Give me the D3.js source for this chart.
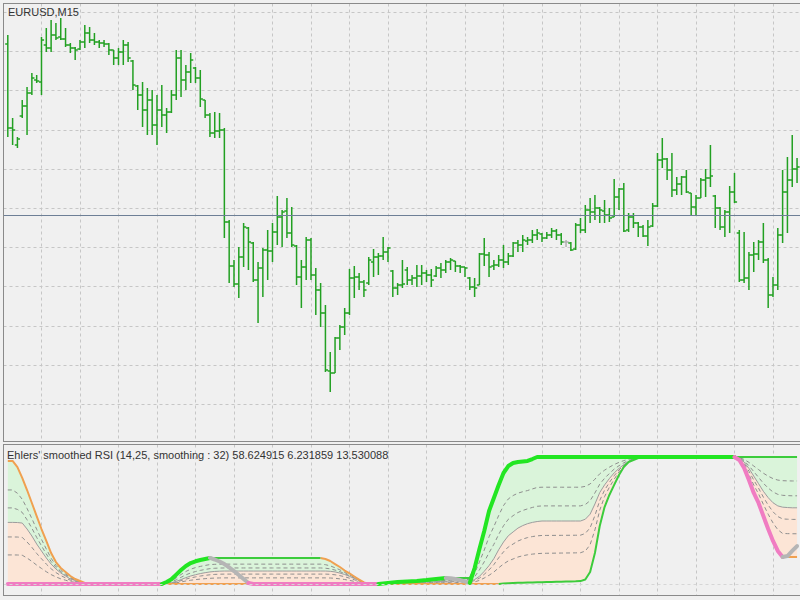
<!DOCTYPE html>
<html>
<head>
<meta charset="utf-8">
<script src="https://cdnjs.cloudflare.com/ajax/libs/d3/7.8.5/d3.min.js"></script>
<style>
  html, body { margin: 0; padding: 0; background: #f0f0f0; }
  svg { display: block; }
</style>
</head>
<body>
<div id="chart"></div>
<script>
// EURUSD M15 bars (left tick = open, right tick = close)
const opens = [
  1.35956,1.35872,1.35855,1.35884,1.35894,1.35907,1.35920,1.35918,1.35955,1.35952,
  1.35965,1.35963,1.35961,1.35955,1.35952,1.35951,1.35958,1.35967,1.35960,1.35958,
  1.35957,1.35956,1.35950,1.35942,1.35948,1.35955,1.35939,1.35914,1.35905,1.35890,
  1.35900,1.35875,1.35890,1.35885,1.35888,1.35905,1.35942,1.35920,1.35928,1.35932,
  1.35922,1.35900,1.35885,1.35867,1.35869,1.35870,1.35778,1.35734,1.35716,1.35743,
  1.35772,1.35757,1.35720,1.35732,1.35750,1.35749,1.35768,1.35783,1.35789,1.35767,
  1.35754,1.35723,1.35733,1.35760,1.35725,1.35710,1.35687,1.35629,1.35627,1.35662,
  1.35673,1.35687,1.35722,1.35723,1.35718,1.35717,1.35738,1.35743,1.35744,1.35748,
  1.35729,1.35712,1.35715,1.35730,1.35720,1.35722,1.35724,1.35727,1.35725,1.35724,
  1.35732,1.35730,1.35738,1.35739,1.35734,1.35733,1.35722,1.35713,1.35715,1.35746,
  1.35745,1.35734,1.35735,1.35740,1.35738,1.35744,1.35757,1.35755,1.35759,1.35760,
  1.35765,1.35766,1.35762,1.35765,1.35769,1.35765,1.35758,1.35757,1.35751,1.35775,
  1.35770,1.35790,1.35788,1.35792,1.35789,1.35785,1.35783,1.35803,1.35811,1.35770,
  1.35783,1.35777,1.35773,1.35764,1.35774,1.35794,1.35840,1.35841,1.35830,1.35810,
  1.35816,1.35823,1.35807,1.35793,1.35802,1.35820,1.35822,1.35804,1.35792,1.35773,
  1.35788,1.35808,1.35767,1.35720,1.35722,1.35745,1.35746,1.35758,1.35740,1.35705,
  1.35715,1.35765,1.35808,1.35820,1.35831
];
const highs = [
  1.35965,1.35882,1.35863,1.35900,1.35913,1.35927,1.35925,1.35963,1.35972,1.35980,
  1.35977,1.35982,1.35972,1.35957,1.35953,1.35960,1.35975,1.35973,1.35967,1.35960,
  1.35960,1.35957,1.35950,1.35952,1.35960,1.35958,1.35940,1.35915,1.35918,1.35912,
  1.35910,1.35905,1.35915,1.35892,1.35910,1.35950,1.35950,1.35935,1.35947,1.35933,
  1.35930,1.35900,1.35887,1.35888,1.35887,1.35872,1.35780,1.35740,1.35753,1.35777,
  1.35773,1.35758,1.35738,1.35752,1.35770,1.35777,1.35804,1.35790,1.35802,1.35793,
  1.35755,1.35740,1.35763,1.35762,1.35732,1.35717,1.35695,1.35648,1.35663,1.35675,
  1.35692,1.35731,1.35734,1.35727,1.35720,1.35743,1.35751,1.35747,1.35763,1.35753,
  1.35730,1.35717,1.35740,1.35733,1.35725,1.35735,1.35735,1.35730,1.35731,1.35734,
  1.35737,1.35740,1.35742,1.35739,1.35735,1.35733,1.35723,1.35722,1.35747,1.35762,
  1.35748,1.35740,1.35745,1.35755,1.35747,1.35758,1.35760,1.35765,1.35763,1.35770,
  1.35771,1.35767,1.35768,1.35772,1.35771,1.35767,1.35760,1.35758,1.35777,1.35782,
  1.35795,1.35802,1.35805,1.35793,1.35800,1.35792,1.35821,1.35812,1.35817,1.35787,
  1.35787,1.35778,1.35775,1.35780,1.35797,1.35847,1.35862,1.35842,1.35847,1.35823,
  1.35824,1.35830,1.35807,1.35805,1.35822,1.35831,1.35855,1.35805,1.35793,1.35790,
  1.35814,1.35827,1.35770,1.35768,1.35748,1.35758,1.35760,1.35777,1.35742,1.35723,
  1.35772,1.35830,1.35843,1.35865,1.35842
];
const lows = [
  1.35863,1.35855,1.35852,1.35882,1.35865,1.35905,1.35917,1.35905,1.35948,1.35948,
  1.35960,1.35960,1.35953,1.35947,1.35940,1.35950,1.35952,1.35957,1.35955,1.35952,
  1.35953,1.35945,1.35935,1.35935,1.35935,1.35938,1.35910,1.35890,1.35873,1.35865,
  1.35865,1.35855,1.35873,1.35867,1.35887,1.35900,1.35903,1.35910,1.35917,1.35917,
  1.35893,1.35882,1.35863,1.35862,1.35862,1.35762,1.35717,1.35713,1.35702,1.35733,
  1.35730,1.35718,1.35677,1.35703,1.35720,1.35738,1.35755,1.35753,1.35762,1.35753,
  1.35715,1.35692,1.35720,1.35720,1.35685,1.35673,1.35628,1.35608,1.35627,1.35650,
  1.35665,1.35685,1.35702,1.35710,1.35703,1.35715,1.35723,1.35725,1.35740,1.35738,
  1.35703,1.35705,1.35712,1.35715,1.35715,1.35713,1.35715,1.35718,1.35713,1.35723,
  1.35722,1.35727,1.35730,1.35728,1.35727,1.35723,1.35710,1.35703,1.35715,1.35734,
  1.35723,1.35730,1.35733,1.35732,1.35735,1.35743,1.35748,1.35748,1.35755,1.35757,
  1.35760,1.35758,1.35761,1.35762,1.35760,1.35755,1.35753,1.35749,1.35750,1.35767,
  1.35767,1.35777,1.35780,1.35777,1.35777,1.35778,1.35783,1.35790,1.35768,1.35768,
  1.35772,1.35763,1.35763,1.35754,1.35773,1.35793,1.35832,1.35820,1.35803,1.35805,
  1.35805,1.35807,1.35785,1.35785,1.35802,1.35803,1.35813,1.35772,1.35770,1.35763,
  1.35767,1.35797,1.35718,1.35717,1.35710,1.35728,1.35740,1.35737,1.35692,1.35703,
  1.35710,1.35757,1.35767,1.35813,1.35817
];
const closes = [
  1.35872,1.35870,1.35861,1.35894,1.35907,1.35922,1.35919,1.35960,1.35952,1.35965,
  1.35962,1.35961,1.35955,1.35952,1.35950,1.35958,1.35967,1.35960,1.35958,1.35957,
  1.35956,1.35950,1.35942,1.35948,1.35955,1.35942,1.35915,1.35905,1.35890,1.35900,
  1.35875,1.35890,1.35885,1.35888,1.35905,1.35942,1.35920,1.35928,1.35940,1.35922,
  1.35901,1.35885,1.35867,1.35869,1.35870,1.35778,1.35734,1.35716,1.35743,1.35773,
  1.35758,1.35720,1.35732,1.35750,1.35749,1.35768,1.35783,1.35788,1.35767,1.35755,
  1.35723,1.35733,1.35760,1.35725,1.35710,1.35687,1.35630,1.35627,1.35662,1.35673,
  1.35687,1.35722,1.35723,1.35718,1.35710,1.35740,1.35743,1.35744,1.35748,1.35752,
  1.35712,1.35715,1.35716,1.35720,1.35722,1.35724,1.35727,1.35725,1.35720,1.35732,
  1.35730,1.35738,1.35740,1.35734,1.35733,1.35732,1.35713,1.35712,1.35746,1.35745,
  1.35733,1.35735,1.35740,1.35738,1.35744,1.35757,1.35755,1.35760,1.35760,1.35765,
  1.35767,1.35762,1.35765,1.35769,1.35765,1.35758,1.35758,1.35750,1.35775,1.35770,
  1.35790,1.35788,1.35792,1.35790,1.35785,1.35782,1.35803,1.35811,1.35769,1.35783,
  1.35777,1.35773,1.35764,1.35773,1.35794,1.35840,1.35841,1.35830,1.35810,1.35816,
  1.35823,1.35808,1.35793,1.35802,1.35820,1.35822,1.35824,1.35792,1.35773,1.35788,
  1.35808,1.35798,1.35720,1.35722,1.35745,1.35746,1.35758,1.35740,1.35705,1.35715,
  1.35765,1.35808,1.35820,1.35831,1.35833
];
const levelPrice = 1.35785;

// Ehlers' smoothed RSI: main line, upper/lower band, smoothed middle
const rsi = [
  0,0,0,0,0,0,0,0,0,0, 0,0,0,0,0,0,0,0,0,0, 0,0,0,0,0,0,0,0,0,0,
  0,0,0,1.6,3.7,7.4,11.0,14.2,16.5,17.9, 18.9,19.7,20.5,19.3,17.7,15.7,13.0,10.2,7.1,3.9,
  0.8,0,0,0,0,0,0,0,0,0, 0,0,0,0,0,0,0,0,0,0, 0,0,0,0,0,0,0,0,0.4,0.8,
  1.2,1.6,1.8,2.0,2.2,2.4,2.8,3.1,3.5,3.9, 4.3,4.7,4.5,3.9,3.1,2.0,0.8,12.6,27.6,41.7,
  57.5,67.7,78.0,87.4,92.9,95.3,96.1,96.5,96.9,98.4,
  100,100,100,100,100,100,100,100,100,100, 100,100,100,100,100,100,100,100,100,100,
  100,100,100,100,100,100,100,100,100,100, 100,100,100,100,100,100,100,100,100,100,
  100,100,97.6,91.3,81.9,71.7,63.8,53.5,43.3,33.9, 26.0,21.3,22.0,26.0,29.9
];
const hiBand = [
  96.9,96.9,92.1,83.5,74.0,63.8,53.5,43.3,33.9,24.4, 17.3,12.6,9.4,6.3,3.9,2.4,0.8,0,0,0,
  0,0,0,0,0,0,0,0,0,0, 0,0,0,1.6,3.7,7.4,11.0,14.2,16.5,17.9, 18.9,19.7,20.5,20.5,20.5,20.5,20.5,20.5,20.5,20.5,
  20.5,20.5,20.5,20.5,20.5,20.5,20.5,20.5,20.5,20.5, 20.5,20.5,20.5,20.5,20.5,20.5,19.7,18.1,15.7,13.4,
  10.6,8.3,5.9,3.5,1.2,0,0,0,0.4,0.8, 1.2,1.6,1.8,2.0,2.2,2.4,2.8,3.1,3.5,3.9,
  4.3,4.7,4.7,4.7,4.7,4.7,4.7,12.6,27.6,41.7, 57.5,67.7,78.0,87.4,92.9,95.3,96.1,96.5,96.9,98.4,
  100,100,100,100,100,100,100,100,100,100, 100,100,100,100,100,100,100,100,100,100,
  100,100,100,100,100,100,100,100,100,100, 100,100,100,100,100,100,100,100,100,100,
  100,100,100,100,100,100,100,100,100,100, 100,100,100,100,100,100,100,100,100,100,
  100,100,100,100,100
];
const loBand = [
  0,0,0,0,0,0,0,0,0,0, 0,0,0,0,0,0,0,0,0,0, 0,0,0,0,0,0,0,0,0,0,
  0,0,0,0,0,0,0,0,0,0, 0,0,0,0,0,0,0,0,0,0, 0,0,0,0,0,0,0,0,0,0,
  0,0,0,0,0,0,0,0,0,0, 0,0,0,0,0,0,0,0,0,0, 0,0,0,0,0,0,0,0,0,0,
  0,0,0,0,0,0,0,0,0,0, 0,0,0,0.3,0.5,0.7,0.9,1.0,1.1,1.2,
  1.3,1.4,1.5,1.6,1.7,1.8,1.9,2.0,2.1,2.3, 3.5,9.5,24.4,45.7,60.6,70.1,78.0,85.8,92.1,96.1,
  97.6,99.2,100,100,100,100,100,100,100,100, 100,100,100,100,100,100,100,100,100,100,
  100,100,97.6,91.3,81.9,71.7,63.8,53.5,43.3,33.9, 26.0,21.3,21.3,21.3,21.3
];
const midLine = [
  48.5,48.5,48.4,48.0,43.3,37.8,31.5,26.0,20.5,15.7, 11.8,8.7,6.3,3.9,2.8,1.6,0.8,0,0,0,
  0,0,0,0,0,0,0,0,0,0, 0,0,0,0.3,1.0,2.0,3.5,5.0,6.3,7.3, 8.2,8.9,9.5,9.9,10.1,10.2,10.2,10.2,10.2,10.2,
  10.2,10.2,10.2,10.2,10.2,10.2,10.2,10.2,10.2,10.2, 10.2,10.2,10.2,10.2,10.2,10.2,10.2,10.0,9.5,8.6,
  7.5,6.0,4.4,2.8,1.2,0,0,0,0.1,0.2, 0.35,0.5,0.65,0.8,0.95,1.1,1.25,1.4,1.6,1.8,
  2.0,2.2,2.3,2.35,2.35,2.35,2.35,3.5,6.0,10.0, 14.5,20.0,27.0,33.0,38.0,41.0,44.0,46.0,47.5,48.5,
  49.2,49.6,49.6,49.6,49.6,49.6,49.6,49.6,49.6,49.6, 51.0,55.0,63.0,72.0,78.0,83.0,87.5,91.0,94.0,96.5,
  98.0,99.4,100,100,100,100,100,100,100,100, 100,100,100,100,100,100,100,100,100,100,
  100,100,99.0,96.0,91.0,85.0,79.0,73.0,68.0,64.0, 61.5,60.5,60.2,60.0,60.0
];
const fibSteps = [0.528, 0.236, -0.236, -0.528];

const W = 800, H = 600;
const mainWin = { left: 3.5, right: 806, top: 3.5, bottom: 441.5 };
const subWin = { left: 3.5, right: 806, top: 444.5, bottom: 595.5 };

const svg = d3.select("#chart").append("svg")
  .attr("width", W).attr("height", H)
  .style("font-family", "'Liberation Sans', Arial, sans-serif");

svg.append("rect").attr("width", W).attr("height", H).attr("fill", "#f0f0f0");

const defs = svg.append("defs");
[["clipMain", mainWin], ["clipSub", subWin]].forEach(([id, w]) => {
  defs.append("clipPath").attr("id", id).append("rect")
    .attr("x", w.left).attr("y", w.top)
    .attr("width", w.right - w.left).attr("height", w.bottom - w.top);
});

// scales
const n = opens.length;
const x = d3.scaleLinear().domain([0, n - 1]).range([7.8, 7.8 + 4.8125 * (n - 1)]);
const y = d3.scaleLinear().domain([1.35559, 1.35997]).range([441, 3]);
const yInd = d3.scaleLinear().domain([0, 100]).range([584, 457]);

// grid: a vertical line every 8 bars (2 hours), horizontal every 39.2px
const gridBars = d3.range(7, n, 8);
const gridColor = "#c6c6c6";
[mainWin, subWin].forEach(w => {
  svg.append("g").selectAll("line").data(gridBars).join("line")
    .attr("x1", d => Math.round(x(d)) + 0.5).attr("x2", d => Math.round(x(d)) + 0.5)
    .attr("y1", w.top).attr("y2", w.bottom)
    .attr("stroke", gridColor).attr("stroke-dasharray", "3,3");
});
svg.append("g").selectAll("line").data(d3.range(11)).join("line")
  .attr("x1", mainWin.left).attr("x2", W)
  .attr("y1", k => Math.round(12 + 39.2 * k) + 0.5).attr("y2", k => Math.round(12 + 39.2 * k) + 0.5)
  .attr("stroke", gridColor).attr("stroke-dasharray", "3,3");

// ---------- main window: OHLC bars ----------
const barData = opens.map((o, i) => ({ i, o, h: highs[i], l: lows[i], c: closes[i] }));
const bars = svg.append("g").attr("clip-path", "url(#clipMain)")
  .selectAll("g").data(barData).join("g")
  .attr("stroke", d => d.o === d.c ? "#b0b0b0" : "#22a022")
  .attr("stroke-width", 1.5);

bars.append("line")
  .attr("x1", d => x(d.i)).attr("x2", d => x(d.i))
  .attr("y1", d => y(d.h)).attr("y2", d => y(d.l));
bars.append("line")
  .attr("x1", d => x(d.i) - 2.6).attr("x2", d => x(d.i))
  .attr("y1", d => y(d.o)).attr("y2", d => y(d.o));
bars.append("line")
  .attr("x1", d => x(d.i)).attr("x2", d => x(d.i) + 2.6)
  .attr("y1", d => y(d.c)).attr("y2", d => y(d.c));

svg.append("line")
  .attr("x1", mainWin.left).attr("x2", W)
  .attr("y1", Math.round(y(levelPrice)) + 0.5).attr("y2", Math.round(y(levelPrice)) + 0.5)
  .attr("stroke", "#6d7f96").attr("stroke-width", 1);

svg.append("text")
  .attr("x", 8).attr("y", 16)
  .attr("font-size", "11px").attr("fill", "#333")
  .text("EURUSD,M15");

// ---------- sub window: smoothed RSI ----------
const ind = svg.append("g").attr("clip-path", "url(#clipSub)");
const idx = d3.range(n);

ind.append("path").datum(idx)
  .attr("fill", "#daf4da")
  .attr("d", d3.area().x(i => x(i)).y0(i => yInd(midLine[i])).y1(i => yInd(hiBand[i])));
ind.append("path").datum(idx)
  .attr("fill", "#fce5d6")
  .attr("d", d3.area().x(i => x(i)).y0(i => yInd(loBand[i])).y1(i => yInd(midLine[i])));

const fibValue = (k, i) => k > 0
  ? midLine[i] + k * (hiBand[i] - midLine[i])
  : midLine[i] + k * (midLine[i] - loBand[i]);

fibSteps.forEach(k => {
  ind.append("path").datum(idx)
    .attr("fill", "none").attr("stroke", "#8e8e8e").attr("stroke-width", 1)
    .attr("stroke-dasharray", "4,3")
    .attr("d", d3.line().x(i => x(i)).y(i => yInd(fibValue(k, i))));
});
ind.append("path").datum(idx)
  .attr("fill", "none").attr("stroke", "#9c9c9c").attr("stroke-width", 1)
  .attr("d", d3.line().x(i => x(i)).y(i => yInd(midLine[i])));

// split a series into runs of the same colour (segment i-1 -> i takes state[i])
function colourRuns(states) {
  const out = [];
  for (let i = 1; i < n; i++) {
    if (!out.length || states[i] !== out[out.length - 1].s) out.push({ s: states[i], pts: [i - 1, i] });
    else out[out.length - 1].pts.push(i);
  }
  return out;
}
function directionStates(v) {
  const s = [];
  v.forEach((d, i) => {
    s[i] = i === 0 ? "dn" : d > v[i - 1] ? "up" : d < v[i - 1] ? "dn" : s[i - 1];
  });
  return s;
}
const bandColour = { up: "#3ccc3c", dn: "#f0a050" };
[loBand, hiBand].forEach(v => {
  colourRuns(directionStates(v)).forEach(r => {
    ind.append("path").datum(r.pts)
      .attr("fill", "none").attr("stroke", bandColour[r.s]).attr("stroke-width", 2)
      .attr("stroke-linejoin", "round")
      .attr("d", d3.line().x(i => x(i)).y(i => yInd(v[i])));
  });
});

const rsiStates = [];
rsi.forEach((v, i) => {
  const up = v >= hiBand[i], dn = v <= loBand[i];
  rsiStates[i] = up && dn ? (i ? rsiStates[i - 1] : "dn") : up ? "up" : dn ? "dn" : "flat";
});
const rsiColour = { up: "#22e622", dn: "#f07cc2", flat: "#b5b5b5" };
colourRuns(rsiStates).forEach(r => {
  ind.append("path").datum(r.pts)
    .attr("fill", "none").attr("stroke", rsiColour[r.s]).attr("stroke-width", 4)
    .attr("stroke-linejoin", "round").attr("stroke-linecap", "round")
    .attr("d", d3.line().x(i => x(i)).y(i => yInd(rsi[i])));
});

ind.append("line")
  .attr("x1", subWin.left).attr("x2", W)
  .attr("y1", yInd(0) + 0.5).attr("y2", yInd(0) + 0.5)
  .attr("stroke", "#d6d6d6").attr("stroke-dasharray", "3,3");

svg.append("text")
  .attr("x", 7).attr("y", 458.5)
  .attr("font-size", "11px").attr("fill", "#333")
  .text("Ehlers' smoothed RSI (14,25, smoothing : 32) 58.624915 6.231859 13.530088");

// window frames
[mainWin, subWin].forEach(w => {
  svg.append("rect")
    .attr("x", w.left).attr("y", w.top)
    .attr("width", w.right - w.left).attr("height", w.bottom - w.top)
    .attr("fill", "none").attr("stroke", "#8a8a8a");
});
</script>
</body>
</html>
